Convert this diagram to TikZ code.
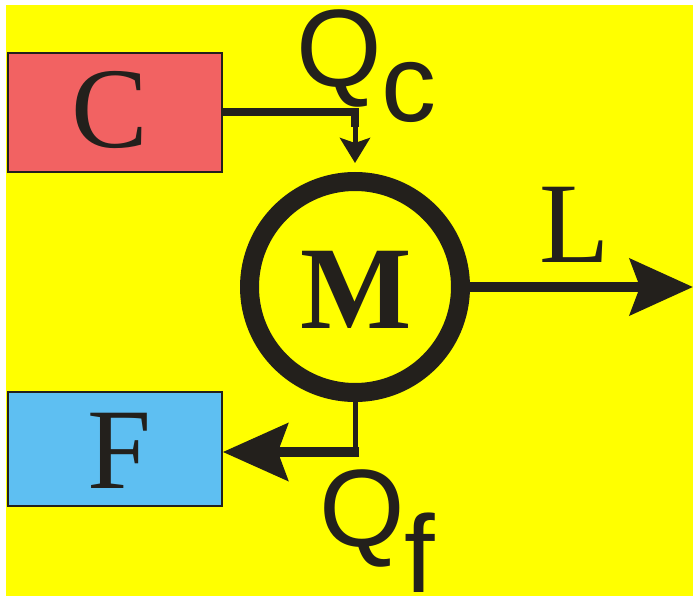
\documentclass[tikz,border=0pt]{standalone}
\usepackage{fontspec}
\setmainfont{Liberation Serif}
\setsansfont{Liberation Sans}
\usepackage{xcolor}
\usepackage{tikz}
\usetikzlibrary{arrows.meta,positioning,calc}

\definecolor{bgyellow}{HTML}{FFFF00}
\definecolor{coldred}{HTML}{F26262}
\definecolor{coldblue}{HTML}{5EBFF2}
\definecolor{inkdark}{HTML}{23201C}

\begin{document}
\begin{tikzpicture}[
    x=1pt, y=-1pt,
    resbox/.style={
        rectangle, draw=inkdark, line width=1.6pt, inner sep=0pt,
        minimum width=214pt, minimum height=114pt
    },
    glyph/.style={
        inner sep=0pt, anchor=base, text=inkdark,
        font=\fontsize{115}{115}\selectfont
    },
    qlabel/.style={
        inner sep=0pt, anchor=base west, text=inkdark,
        font=\sffamily\fontsize{110}{110}\selectfont
    },
    motor/.style={
        circle, draw=inkdark, line width=19pt, minimum size=211pt, inner sep=0pt
    },
    pipe/.style={line width=8pt, draw=inkdark},
    feed/.style={line width=5pt, draw=inkdark},
    heatin/.style={-{Stealth[length=25pt, width=30pt, inset=5pt]}, line width=5pt, inkdark},
    heatout/.style={-{Stealth[length=65pt, width=57pt, inset=10pt]}, line width=10pt, inkdark},
    work/.style={-{Stealth[length=63pt, width=56pt, inset=10pt]}, line width=10pt, inkdark}
]
% Frame
\useasboundingbox (0,0) rectangle (693,596);
\fill[bgyellow] (6,5) rectangle (693,596);

% Reservoirs (hot on top, cold below)
\node[resbox, fill=coldred, minimum height=119pt] (C) at (115,112.5) {};
\node[glyph] (Ctext) at (110,148) {C};
\node[resbox, fill=coldblue] (F) at (115,449) {};
\node[glyph] (Ftext) at (119,488) {F};

% Engine
\node[motor] (M) at (355,287) {};
\node[glyph, font=\bfseries\fontsize{118}{118}\selectfont] (Mtext) at (356,328) {M};

% Heat from C into the engine
\coordinate (qcbend) at (355,127);
\draw[pipe] (C.east) -| (qcbend);
\draw[heatin, shorten >=9pt] (qcbend) -- (M.north);
\node[qlabel] (Qc) at (296,87) {Q\raisebox{-35pt}{c}};

% Work out
\coordinate (Lend) at (693,287);
\draw[work] (M.east) -- (Lend);
\node[glyph] (Ltext) at (574.5,262) {L};

% Heat rejected to F
\coordinate (qfbend) at (355,452);
\draw[feed] (M.south) -- ($(qfbend)+(0,5)$);
\draw[heatout] ($(qfbend)+(4,0)$) -- (qfbend -| F.east);
\node[qlabel] (Qf) at (319,546) {Q\raisebox{-46pt}{f}};
\end{tikzpicture}
\end{document}
